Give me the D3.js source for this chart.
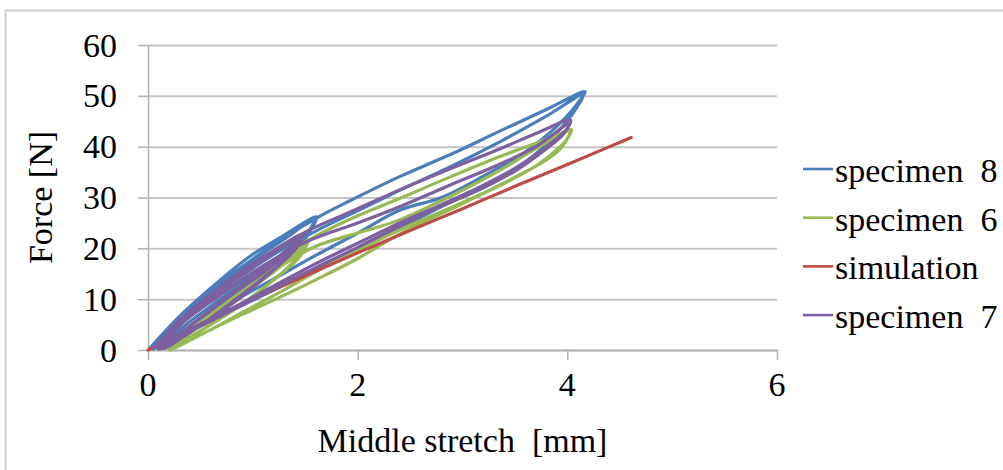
<!DOCTYPE html>
<html>
<head>
<meta charset="utf-8">
<script src="https://cdn.jsdelivr.net/npm/d3@7"></script>
<style>
  html, body { margin: 0; padding: 0; background: #fff; }
  svg { display: block; }
</style>
</head>
<body>
<svg id="chart" width="1003" height="470"></svg>
<script>
// ---- data ----
const xTicks = [0, 2, 4, 6];
const yTicks = [0, 10, 20, 30, 40, 50, 60];
const seriesNames = ["specimen 8", "specimen 6", "simulation", "specimen 7"];
const seriesColors = ["#4a7ebb", "#98b954", "#be4b48", "#7d60a0"];

// [middle stretch mm, force N], traced in loading/unloading order
const specimen8 = [
  [0.02,0.4],[0.3,6.6],[0.6,12.2],[0.97,18.4],[1.3,22.6],[1.61,26.2],
  [1.55,23.6],[1.4,20.0],[1.1,14.6],[0.8,10.2],[0.5,6.0],[0.25,2.6],[0.08,0.4],
  [0.3,6.0],[0.6,11.6],[1.0,17.6],[1.3,21.8],[1.58,25.6],
  [1.5,21.8],[1.2,16.0],[0.9,11.4],[0.6,7.2],[0.3,3.2],[0.1,0.5],
  [0.3,6.2],[0.6,11.8],[1.0,17.9],[1.3,22.2],[1.59,25.9],
  [1.52,23.0],[1.3,19.2],[1.0,14.8],[0.7,10.2],[0.4,5.6],[0.15,1.4],[0.06,0.3],
  [0.4,7.8],[0.8,14.8],[1.2,20.8],[1.61,26.0],[1.93,29.4],[2.4,34.1],[2.9,38.6],[3.36,43.1],[3.8,47.3],[4.17,50.8],
  [4.1,48.6],[4.04,47.0],[3.9,44.0],[3.6,39.0],[3.2,34.2],[2.8,30.0],[2.4,27.5],[2.0,23.0],[1.6,18.6],[1.2,14.0],[0.8,9.4],[0.4,4.6],[0.12,0.8],
  [0.4,7.0],[0.8,13.2],[1.2,18.8],[1.6,23.4],[2.0,27.4],[2.4,31.4],[2.9,36.2],[3.36,41.0],[3.8,46.0],[4.15,50.2],
  [4.08,47.4],[3.98,44.6],[3.7,38.6],[3.3,33.0],[2.8,28.2],[2.4,23.9],[2.0,19.8],[1.6,15.8],[1.2,11.8],[0.8,7.8],[0.4,3.8],[0.12,0.6]
];

const specimen6 = [
  [0.2,0.2],[0.5,5.8],[0.8,10.8],[1.1,15.4],[1.35,19.0],[1.53,21.6],
  [1.47,19.2],[1.3,15.6],[1.0,10.6],[0.7,6.4],[0.45,3.2],[0.22,0.4],
  [0.5,5.2],[0.8,10.2],[1.1,14.8],[1.35,18.4],[1.52,21.2],
  [1.45,18.4],[1.2,13.8],[0.9,9.0],[0.6,5.0],[0.35,1.8],[0.21,0.2],
  [0.5,5.4],[0.8,10.5],[1.1,15.1],[1.35,18.7],[1.52,21.4],
  [1.46,19.8],[1.25,16.2],[0.95,11.6],[0.65,7.0],[0.4,3.4],[0.2,0.3],
  [0.5,5.6],[0.9,12.4],[1.3,18.6],[1.6,22.4],[2.0,26.4],[2.4,29.8],[2.9,34.2],[3.4,38.4],[3.8,41.4],[4.04,43.3],
  [4.0,41.6],[3.9,39.4],[3.7,36.2],[3.4,32.8],[3.0,29.0],[2.4,23.6],[2.0,19.6],[1.6,15.4],[1.26,11.4],[0.9,7.4],[0.56,3.6],[0.21,0.1],
  [0.4,3.4],[0.8,9.6],[1.2,15.6],[1.6,20.4],[2.0,23.0],[2.4,25.6],[2.9,30.4],[3.36,35.4],[3.7,39.6],[4.02,43.0],
  [3.95,40.0],[3.8,37.4],[3.36,32.5],[2.9,27.8],[2.4,22.8],[2.0,18.0],[1.6,13.8],[1.26,10.4],[0.9,7.0],[0.56,3.6],[0.21,0.0]
];

const simulation = [
  [0,0],[0.3,2.9],[0.56,5.6],[1.0,10.0],[1.5,14.6],[2.0,19.1],[2.5,23.5],[3.0,27.8],[3.5,32.2],[4.0,36.5],[4.61,41.8]
];

const specimen7 = [
  [0.05,0.2],[0.3,5.8],[0.6,11.0],[0.9,15.6],[1.2,19.6],[1.48,22.8],
  [1.42,20.2],[1.2,15.8],[0.9,10.6],[0.6,6.2],[0.35,2.8],[0.15,0.3],
  [0.35,5.8],[0.65,11.0],[0.95,15.6],[1.25,19.8],[1.46,22.4],
  [1.38,19.4],[1.1,14.2],[0.8,9.4],[0.5,4.8],[0.25,1.6],[0.1,0.2],
  [0.3,5.7],[0.6,10.9],[0.9,15.5],[1.2,19.5],[1.47,22.6],
  [1.4,21.0],[1.2,17.6],[0.9,12.8],[0.6,8.0],[0.35,4.0],[0.12,0.5],
  [0.3,5.5],[0.6,10.6],[0.9,15.2],[1.2,19.2],[1.45,22.2],
  [1.38,20.0],[1.15,16.0],[0.85,11.6],[0.55,7.0],[0.3,3.2],[0.1,0.3],
  [0.3,5.4],[0.7,12.2],[1.1,18.2],[1.5,23.2],[2.0,27.8],[2.4,31.5],[2.9,35.8],[3.36,39.6],[3.7,42.6],[4.03,45.2],
  [4.0,43.6],[3.9,41.6],[3.6,37.0],[3.2,32.4],[2.8,28.6],[2.4,25.0],[2.0,21.0],[1.6,17.0],[1.2,12.6],[0.8,8.2],[0.4,4.0],[0.12,0.4],
  [0.3,4.8],[0.7,11.0],[1.1,16.6],[1.5,21.2],[2.0,25.0],[2.4,28.2],[2.9,32.6],[3.36,36.6],[3.7,40.0],[4.02,44.6],
  [3.96,42.4],[3.8,39.6],[3.5,35.2],[3.1,31.0],[2.7,27.4],[2.4,24.4],[2.0,20.2],[1.6,16.2],[1.2,12.0],[0.8,7.8],[0.4,3.6],[0.1,0.2]
];

const xTitle = "Middle stretch  [mm]";
const yTitle = "Force [N]";

// ---- drawing ----
const FONT = "Liberation Serif";
const svg = d3.select("#chart");
const FS = 34;

// every text goes straight onto the svg root with its own serif family
function addText(str) {
  return svg.append("text")
    .attr("font-family", FONT)
    .style("font-family", "'Liberation Serif', serif")
    .attr("font-size", FS)
    .attr("fill", "#000")
    .text(str);
}

svg.append("rect")
  .attr("x", 5.5).attr("y", 10.5).attr("width", 1010).attr("height", 480)
  .attr("fill", "#fff").attr("stroke", "#d0d0d0").attr("stroke-width", 2);

const x = d3.scaleLinear().domain([0, 6]).range([148, 777]);
const y = d3.scaleLinear().domain([0, 60]).range([350, 45]);

// gridlines
svg.append("g")
  .attr("transform", `translate(${x(0)},0)`)
  .call(d3.axisLeft(y).tickValues(yTicks).tickSize(-(x(6) - x(0))).tickFormat(""))
  .call(g => g.select(".domain").remove())
  .call(g => g.selectAll(".tick line").attr("stroke", "#c4c4c4").attr("stroke-width", 2));

// axes (lines and tick marks)
svg.append("g")
  .attr("transform", `translate(${x(0)},0)`)
  .call(d3.axisLeft(y).tickValues(yTicks).tickFormat("").tickSize(10).tickSizeOuter(0))
  .call(g => g.select(".domain").attr("stroke", "#b0b0b0").attr("stroke-width", 1.5))
  .call(g => g.selectAll(".tick line").attr("stroke", "#b0b0b0").attr("stroke-width", 1.5))
  .call(g => g.selectAll(".tick text").remove());

svg.append("g")
  .attr("transform", `translate(0,${y(0)})`)
  .call(d3.axisBottom(x).tickValues(xTicks).tickFormat("").tickSize(10).tickSizeOuter(0))
  .call(g => g.select(".domain").attr("stroke", "#b0b0b0").attr("stroke-width", 1.5))
  .call(g => g.selectAll(".tick line").attr("stroke", "#b0b0b0").attr("stroke-width", 1.5))
  .call(g => g.selectAll(".tick text").remove());

// tick labels placed with the same scales
yTicks.forEach(v => {
  addText(String(v)).attr("x", x(0) - 31).attr("y", y(v) + 11.5).attr("text-anchor", "end");
});
xTicks.forEach(v => {
  addText(String(v)).attr("x", x(v)).attr("y", y(0) + 46).attr("text-anchor", "middle");
});

// series
const line = d3.line().x(d => x(d[0])).y(d => y(d[1])).curve(d3.curveCatmullRom.alpha(0.5));
[specimen8, specimen6, simulation, specimen7].forEach((data, i) => {
  svg.append("path")
    .datum(data)
    .attr("d", line)
    .attr("fill", "none")
    .attr("stroke", seriesColors[i])
    .attr("stroke-width", 3.2)
    .attr("stroke-linejoin", "round")
    .attr("stroke-linecap", "round");
});

// titles
addText(xTitle)
  .attr("x", (x(0) + x(6)) / 2).attr("y", 452)
  .attr("text-anchor", "middle")
  .style("white-space", "pre");

addText(yTitle)
  .attr("transform", `translate(52,${(y(0) + y(60)) / 2}) rotate(-90)`)
  .attr("text-anchor", "middle");

// legend
seriesNames.forEach((name, i) => {
  const ly = 169 + i * 48.7;
  svg.append("line")
    .attr("x1", 803).attr("x2", 833).attr("y1", ly).attr("y2", ly)
    .attr("stroke", seriesColors[i]).attr("stroke-width", 2.6);
  addText(name.replace(" ", "  "))
    .attr("x", 835).attr("y", ly + 13)
    .style("white-space", "pre");
});
</script>
</body>
</html>
